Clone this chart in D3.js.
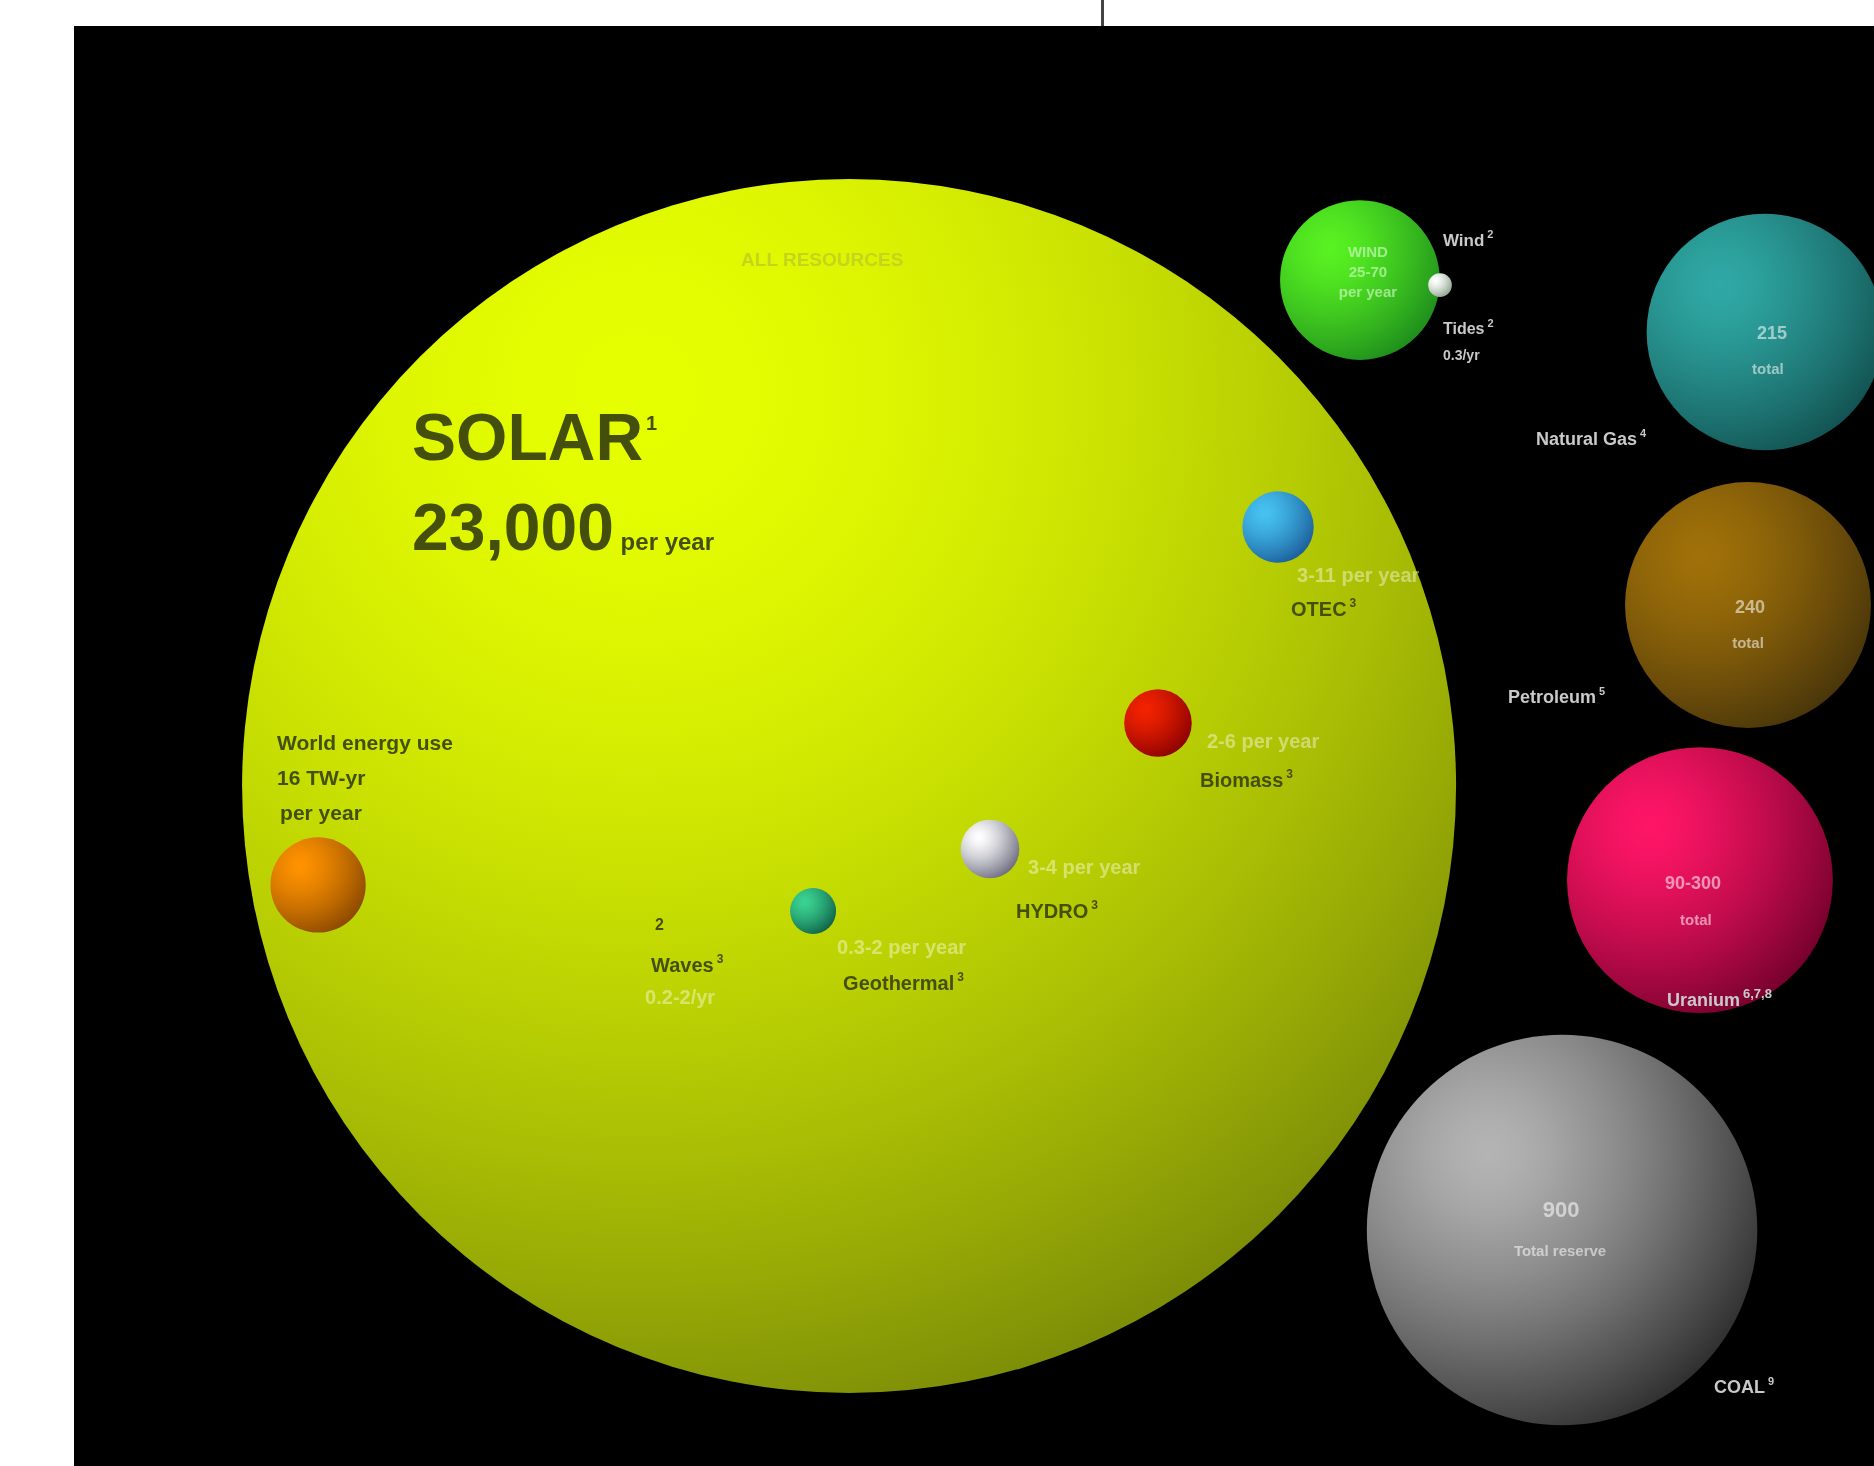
<!DOCTYPE html>
<html>
<head>
<meta charset="utf-8">
<script src="https://cdn.jsdelivr.net/npm/d3@7"></script>
<style>
  body { margin: 0; background: #fff; }
  text { font-family: "Liberation Sans", Arial, sans-serif; font-weight: bold; }
</style>
</head>
<body>
<div id="chart"></div>
<script>
// energy resources, renewable ones per year, finite ones total reserve (TW-yr)
var resources = ["Solar", "Wind", "Tides", "Natural Gas", "Petroleum", "Uranium", "Coal",
                 "OTEC", "Biomass", "Hydro", "Geothermal", "World energy use"];
var sizeValues = [23000, 70, 0.3, 215, 240, 300, 900, 7, 6, 4, 2, 16];
var valueText = ["23,000", "25-70", "0.3", "215", "240", "90-300", "900",
                 "3-11", "2-6", "3-4", "0.3-2", "16 TW-yr"];
var unitText = ["per year", "per year", "/yr", "total", "total", "total", "Total reserve",
                "per year", "per year", "per year", "per year", "per year"];
var footnotes = ["1", "2", "2", "4", "5", "6,7,8", "9", "3", "3", "3", "3", ""];

// where each sphere sits, as a fraction of the black panel
var placeX = [0.4306, 0.7144, 0.7589, 0.9394, 0.93, 0.9033, 0.8267, 0.6689, 0.6022, 0.5089, 0.4106, 0.1356];
var placeY = [0.5278, 0.1764, 0.1799, 0.2125, 0.4021, 0.5931, 0.8361, 0.3479, 0.484, 0.5715, 0.6146, 0.5965];

// sphere shading: light / dark
var lightCol = ["#e6ff00", "#58f222", "#ffffff", "#2fa9a5", "#a17109", "#ff1566", "#b4b4b4",
                "#46c2f2", "#f22200", "#ffffff", "#3ad392", "#ff9200"];
var darkCol = ["#55630a", "#1c8a1c", "#8aa08a", "#11504f", "#46330a", "#70002a", "#2a2a2a",
               "#1a5a96", "#860000", "#66667a", "#0e5e46", "#864600"];

var width = 1874, height = 1466;
var panel = {x: 74, y: 26, w: 1800, h: 1440};

var svg = d3.select("#chart").append("svg")
  .attr("width", width)
  .attr("height", height);

var xPos = d3.scaleLinear().domain([0, 1]).range([panel.x, panel.x + panel.w]);
var yPos = d3.scaleLinear().domain([0, 1]).range([panel.y, panel.y + panel.h]);
var rScale = d3.scalePow().exponent(0.35).domain([0, 23000]).range([0, 607]);

svg.append("rect").attr("width", width).attr("height", height).attr("fill", "#fff");
svg.append("rect")
  .attr("x", panel.x).attr("y", panel.y)
  .attr("width", panel.w).attr("height", panel.h)
  .attr("fill", "#000");
// little divider tick above the panel
svg.append("rect").attr("x", 1101).attr("y", 0).attr("width", 3).attr("height", panel.y).attr("fill", "#444");

var items = resources.map(function(name, i) {
  return {
    name: name, idx: i,
    cx: xPos(placeX[i]), cy: yPos(placeY[i]),
    r: rScale(sizeValues[i])
  };
});

var defs = svg.append("defs");
defs.append("filter").attr("id", "softText")
  .append("feGaussianBlur").attr("stdDeviation", 0.6);

// shading in user space, light spot up-left of the centre
// (solar: broad light from the top, darkest bottom-right)
var stopsAt = d3.range(0, 1.0001, 0.1);
items.forEach(function(d) {
  var i = d.idx;
  var sun = i === 0;
  var g = defs.append("radialGradient")
    .attr("id", "grad" + i)
    .attr("gradientUnits", "userSpaceOnUse")
    .attr("cx", d.cx - d.r * (sun ? 0.35 : 0.38))
    .attr("cy", d.cy - d.r * (sun ? 0.65 : 0.4))
    .attr("r", d.r * (sun ? 2.1 : 1.6));
  var mix = d3.interpolateRgb(lightCol[i], darkCol[i]);
  stopsAt.forEach(function(t) {
    g.append("stop")
      .attr("offset", (t * 100) + "%")
      .attr("stop-color", mix(Math.pow(t, sun ? 1.7 : 1.4)));
  });
});

svg.append("g")
  .selectAll("circle")
  .data(items)
  .enter().append("circle")
  .attr("cx", function(d) { return d.cx; })
  .attr("cy", function(d) { return d.cy; })
  .attr("r", function(d) { return d.r; })
  .attr("fill", function(d) { return "url(#grad" + d.idx + ")"; });

var dark = "#44500a", paleOnYellow = "rgba(255,255,255,0.42)",
    paleOnBall = "rgba(255,255,255,0.55)", grey = "#c9c9c9";

// text lines, offsets from each sphere centre
var labels = [
  {i: 0, dx: -437, dy: -326, size: 66, fill: dark, parts: [["SOLAR"], ["1", 20]]},
  {i: 0, dx: -437, dy: -236, size: 66, fill: dark, parts: [[valueText[0]], [" " + unitText[0], 24, 0]]},
  {i: 0, dx: -108, dy: -520, size: 19, fill: "#c3d61c", parts: [["ALL  RESOURCES"]]},

  {i: 11, dx: -41, dy: -135, size: 21, fill: dark, parts: [["World energy use"]]},
  {i: 11, dx: -41, dy: -100, size: 21, fill: dark, parts: [[valueText[11]]]},
  {i: 11, dx: -38, dy: -65, size: 21, fill: dark, parts: [[unitText[11]]]},

  {i: 7, dx: 19, dy: 55, size: 20, fill: paleOnYellow, parts: [[valueText[7] + " " + unitText[7]]]},
  {i: 7, dx: 13, dy: 89, size: 20, fill: dark, parts: [["OTEC"], [footnotes[7], 12]]},
  {i: 8, dx: 49, dy: 25, size: 20, fill: paleOnYellow, parts: [[valueText[8] + " " + unitText[8]]]},
  {i: 8, dx: 42, dy: 64, size: 20, fill: dark, parts: [["Biomass"], [footnotes[8], 12]]},
  {i: 9, dx: 38, dy: 25, size: 20, fill: paleOnYellow, parts: [[valueText[9] + " " + unitText[9]]]},
  {i: 9, dx: 26, dy: 69, size: 20, fill: dark, parts: [["HYDRO"], [footnotes[9], 12]]},
  {i: 10, dx: 24, dy: 43, size: 20, fill: paleOnYellow, parts: [[valueText[10] + " " + unitText[10]]]},
  {i: 10, dx: 30, dy: 79, size: 20, fill: dark, parts: [["Geothermal"], [footnotes[10], 12]]},
  // waves has no visible sphere, its note sits left of geothermal
  {i: 10, dx: -158, dy: 19, size: 16, fill: dark, parts: [["2"]]},
  {i: 10, dx: -162, dy: 61, size: 20, fill: dark, parts: [["Waves"], ["3", 12]]},
  {i: 10, dx: -168, dy: 93, size: 20, fill: paleOnYellow, parts: [["0.2-2/yr"]]},

  {i: 1, dx: 8, dy: -23, size: 15, fill: "rgba(220,255,210,0.6)", anchor: "middle", parts: [["WIND"]]},
  {i: 1, dx: 8, dy: -3, size: 15, fill: "rgba(220,255,210,0.6)", anchor: "middle", parts: [[valueText[1]]]},
  {i: 1, dx: 8, dy: 17, size: 15, fill: "rgba(220,255,210,0.6)", anchor: "middle", parts: [[unitText[1]]]},
  {i: 1, dx: 83, dy: -34, size: 17, fill: grey, parts: [["Wind"], [footnotes[1], 11]]},
  {i: 2, dx: 3, dy: 49, size: 16, fill: grey, parts: [["Tides"], [footnotes[2], 11]]},
  {i: 2, dx: 3, dy: 75, size: 14, fill: grey, parts: [[valueText[2] + unitText[2]]]},

  {i: 3, dx: 7, dy: 7, size: 18, fill: paleOnBall, anchor: "middle", parts: [[valueText[3]]]},
  {i: 3, dx: 3, dy: 42, size: 15, fill: paleOnBall, anchor: "middle", parts: [[unitText[3]]]},
  {i: 3, dx: -229, dy: 113, size: 18, fill: grey, parts: [["Natural Gas"], [footnotes[3], 11]]},
  {i: 4, dx: 2, dy: 8, size: 18, fill: paleOnBall, anchor: "middle", parts: [[valueText[4]]]},
  {i: 4, dx: 0, dy: 43, size: 15, fill: paleOnBall, anchor: "middle", parts: [[unitText[4]]]},
  {i: 4, dx: -240, dy: 98, size: 18, fill: grey, parts: [["Petroleum"], [footnotes[4], 11]]},
  {i: 5, dx: -7, dy: 9, size: 18, fill: paleOnBall, anchor: "middle", parts: [[valueText[5]]]},
  {i: 5, dx: -4, dy: 45, size: 15, fill: paleOnBall, anchor: "middle", parts: [[unitText[5]]]},
  {i: 5, dx: -33, dy: 126, size: 18, fill: grey, parts: [["Uranium"], [footnotes[5], 13]]},
  {i: 6, dx: -1, dy: -13, size: 22, fill: paleOnBall, anchor: "middle", parts: [[valueText[6]]]},
  {i: 6, dx: -2, dy: 26, size: 15, fill: paleOnBall, anchor: "middle", parts: [[unitText[6]]]},
  {i: 6, dx: 152, dy: 163, size: 18, fill: grey, parts: [["COAL"], [footnotes[6], 11]]}
];

var textLayer = svg.append("g").attr("filter", "url(#softText)");
labels.forEach(function(lab) {
  var it = items[lab.i];
  var t = textLayer.append("text")
    .attr("x", it.cx + lab.dx)
    .attr("y", it.cy + lab.dy)
    .attr("font-size", lab.size)
    .attr("fill", lab.fill)
    .attr("text-anchor", lab.anchor || "start");
  lab.parts.forEach(function(p, k) {
    if (!p[0]) return;
    var sp = t.append("tspan").text(p[0]);
    if (k > 0) {
      sp.attr("font-size", p[1]);
      // superscript unless a baseline offset of 0 is given
      if (p[2] !== 0) sp.attr("dy", -lab.size * 0.45).attr("dx", 3);
    }
  });
});
</script>
</body>
</html>
